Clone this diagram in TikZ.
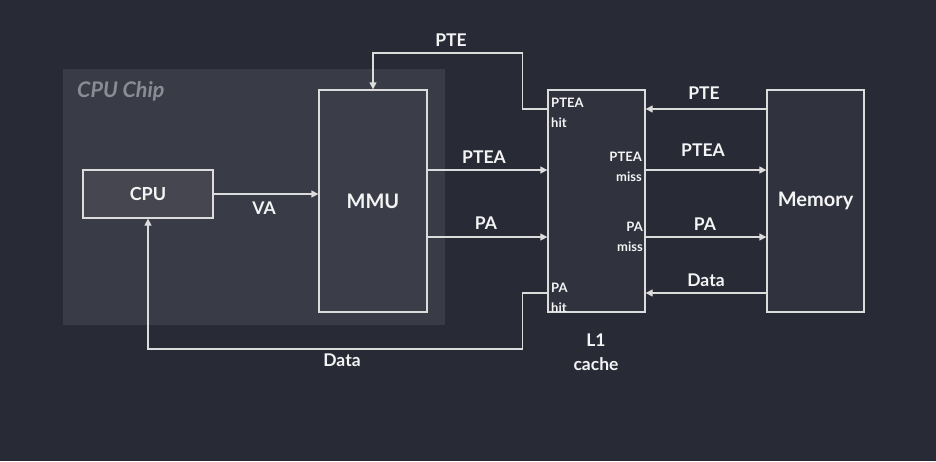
\documentclass[tikz,border=0pt]{standalone}
\usepackage{fontspec}
\setmainfont{Lato}
\usetikzlibrary{arrows.meta, positioning}
\definecolor{bgdark}{HTML}{282A36}
\definecolor{chipgray}{HTML}{393B46}
\definecolor{cpufill}{HTML}{45464F}
\definecolor{mmufill}{HTML}{3B3D48}
\definecolor{unitfill}{HTML}{30323D}
\definecolor{wirecol}{HTML}{DCDCDC}
\definecolor{labelcol}{HTML}{F4F4F4}
\definecolor{chiplabel}{HTML}{8B8C93}

\begin{document}
\begin{tikzpicture}[x=1pt, y=-1pt,
    unit/.style={draw=wirecol, line width=1.3pt, inner sep=0pt,
      text=labelcol, font=\bfseries\fontsize{20}{24}\selectfont},
    wire/.style={-{Triangle[length=7pt, width=7pt]}, draw=wirecol,
      line width=1.3pt},
    lbl/.style={text=labelcol, inner sep=0pt,
      font=\bfseries\fontsize{17.5}{24}\selectfont},
    port/.style={text=labelcol, inner sep=0pt,
      font=\bfseries\fontsize{13}{20}\selectfont}]
        % Background and page size
        \fill[bgdark] (0, 0) rectangle (936, 461);
        \useasboundingbox (0, 0) rectangle (936, 461);
        % CPU chip area (chipgray)
        \fill[chipgray] (63, 69) rectangle (445, 325);
        \node[text=chiplabel, anchor=west, inner sep=0pt,
          font=\bfseries\itshape\fontsize{21.5}{24}\selectfont]
          (chip) at (77, 91) {CPU Chip};
        % Units
        \node[unit, fill=cpufill, minimum width=130pt, minimum height=48pt,
          font=\bfseries\fontsize{18}{24}\selectfont]
          (cpu) at (148, 194) {CPU};
        \node[unit, fill=mmufill, minimum width=108pt, minimum height=222pt]
          (mmu) at (373, 201) {MMU};
        \node[unit, fill=unitfill, minimum width=97pt, minimum height=222pt]
          (l1) at (596.5, 201) {};
        \node[unit, fill=unitfill, minimum width=97pt, minimum height=222pt]
          (mem) at (815.5, 201) {Memory};
        % Ports of the L1 cache
        \node[port, anchor=west, align=left]
          (pteahit) at (551, 113) {PTEA\\hit};
        \node[port, anchor=east, align=right]
          (pteamiss) at (642, 167) {PTEA\\miss};
        \node[port, anchor=east, align=right]
          (pamiss) at (643, 237) {PA\\miss};
        \node[port, anchor=west, align=left]
          (pahit) at (551, 298) {PA\\hit};
        \node[lbl, align=center] (l1name) at (596, 352) {L1\\cache};
        % CPU -> MMU
        \draw[wire] (cpu.east) -- (mmu.west |- cpu.east);
        \node[lbl] (va) at (264, 208) {VA};
        % MMU -> L1
        \draw[wire] (mmu.east |- 0, 170) -- (l1.west |- 0, 170);
        \node[lbl] (pteaout) at (484, 157) {PTEA};
        \draw[wire] (mmu.east |- 0, 237) -- (l1.west |- 0, 237);
        \node[lbl] (paout) at (486, 223) {PA};
        % L1 hits back to MMU and CPU
        \draw[wire] (l1.west |- 0, 109) -- ++(-25, 0)
          |- (mmu.north |- 0, 53) -- (mmu.north);
        \node[lbl] (ptein) at (451, 40) {PTE};
        \draw[wire] (l1.west |- 0, 293) -- ++(-25, 0)
          |- (cpu.south |- 0, 349) -- (cpu.south);
        \node[lbl] (datain) at (342, 360) {Data};
        % L1 <-> Memory
        \draw[wire] (mem.west |- 0, 109) -- (l1.east |- 0, 109);
        \node[lbl] (ptemem) at (704, 93) {PTE};
        \draw[wire] (l1.east |- 0, 170) -- (mem.west |- 0, 170);
        \node[lbl] (pteamem) at (703, 150) {PTEA};
        \draw[wire] (l1.east |- 0, 237) -- (mem.west |- 0, 237);
        \node[lbl] (pamem) at (705, 224) {PA};
        \draw[wire] (mem.west |- 0, 293) -- (l1.east |- 0, 293);
        \node[lbl] (datamem) at (706, 280) {Data};
      \end{tikzpicture}
\end{document}
